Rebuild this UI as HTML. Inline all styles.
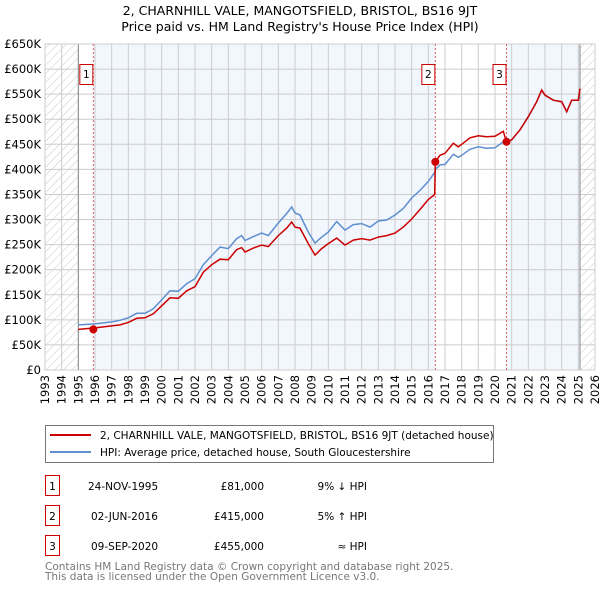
<!DOCTYPE html>
<html><head><meta charset="utf-8"><style>
body{margin:0;background:#fff;}
svg text{font-family:"DejaVu Sans","Liberation Sans",sans-serif;}
</style></head><body>
<svg width="600" height="590" xmlns="http://www.w3.org/2000/svg">
<defs>
<pattern id="hatch" width="6" height="6" patternUnits="userSpaceOnUse" patternTransform="rotate(45)">
<line x1="0" y1="0" x2="0" y2="6" stroke="#bbb" stroke-width="0.8"/>
</pattern>
</defs>
<text x="300" y="15" text-anchor="middle" font-size="12.5">2, CHARNHILL VALE, MANGOTSFIELD, BRISTOL, BS16 9JT</text>
<text x="300" y="31" text-anchor="middle" font-size="12.5">Price paid vs. HM Land Registry's House Price Index (HPI)</text>
<g id="plot"></g>
<g>
<rect x="45.5" y="425.5" width="448" height="37" fill="#fff" stroke="#777"/>
<line x1="50" y1="435" x2="91" y2="435" stroke="#cc0000" stroke-width="2"/>
<text x="100" y="439" font-size="10.5">2, CHARNHILL VALE, MANGOTSFIELD, BRISTOL, BS16 9JT (detached house)</text>
<line x1="50" y1="452" x2="91" y2="452" stroke="#5f8fd0" stroke-width="2"/>
<text x="100" y="456" font-size="10.5">HPI: Average price, detached house, South Gloucestershire</text>
</g>
<g font-size="10.5">
<rect x="45.5" y="475.5" width="14" height="20" fill="#fff" stroke="#cc0000"/><text x="52.5" y="490" text-anchor="middle">1</text>
<text x="88" y="490">24-NOV-1995</text><text x="264" y="490" text-anchor="end">£81,000</text><text x="367" y="490" text-anchor="end">9% ↓ HPI</text>
<rect x="45.5" y="505.5" width="14" height="20" fill="#fff" stroke="#cc0000"/><text x="52.5" y="520" text-anchor="middle">2</text>
<text x="91" y="520">02-JUN-2016</text><text x="264" y="520" text-anchor="end">£415,000</text><text x="367" y="520" text-anchor="end">5% ↑ HPI</text>
<rect x="45.5" y="535.5" width="14" height="20" fill="#fff" stroke="#cc0000"/><text x="52.5" y="550" text-anchor="middle">3</text>
<text x="91" y="550">09-SEP-2020</text><text x="264" y="550" text-anchor="end">£455,000</text><text x="367" y="550" text-anchor="end">≈ HPI</text>
</g>
<text x="45" y="570" font-size="10.5" fill="#777">Contains HM Land Registry data © Crown copyright and database right 2025.</text>
<text x="45" y="580" font-size="10.5" fill="#777">This data is licensed under the Open Government Licence v3.0.</text>
</svg>
<script>
const dates=[1995,1996,1997,1997.5,1998,1998.5,1999,1999.5,2000,2000.5,2001,2001.5,2002,2002.5,2003,2003.5,2004,2004.5,2004.8,2005,2005.5,2006,2006.4,2007,2007.5,2007.8,2008,2008.3,2008.8,2009.2,2009.6,2010,2010.5,2011,2011.5,2012,2012.5,2013,2013.5,2014,2014.5,2015,2015.5,2016,2016.38,2016.42,2016.7,2017,2017.5,2017.8,2018,2018.5,2019,2019.5,2020,2020.5,2020.69,2021,2021.5,2022,2022.5,2022.8,2023,2023.5,2024,2024.3,2024.6,2025,2025.1];
const hpiValues=[90,92,96,99,104,113,113,122,140,158,157,172,182,210,228,245,242,262,268,258,266,273,268,293,312,325,313,309,275,253,265,275,296,279,290,292,285,297,299,309,322,343,358,376,394,400,409,410,430,424,428,440,445,442,443,455,452,459,479,505,535,558,548,538,535,515,538,538,561];
const priceValues=[81,84,88,90,95,103,104,112,128,144,143,158,166,195,210,221,220,240,244,235,243,249,246,268,283,295,285,283,252,229,242,252,263,249,259,262,259,265,268,273,285,301,320,340,350,415,428,432,452,445,450,463,467,465,466,476,455,459,479,505,535,558,548,538,535,515,538,538,561];
const saleDates=[1995.9,2016.42,2020.69];
const saleValues=[81,415,455];
const saleLabels=["1","2","3"];
const yTicks=[0,50,100,150,200,250,300,350,400,450,500,550,600,650];
const yTickLabels=["£0","£50K","£100K","£150K","£200K","£250K","£300K","£350K","£400K","£450K","£500K","£550K","£600K","£650K"];
const xTicks=[1993,1994,1995,1996,1997,1998,1999,2000,2001,2002,2003,2004,2005,2006,2007,2008,2009,2010,2011,2012,2013,2014,2015,2016,2017,2018,2019,2020,2021,2022,2023,2024,2025,2026];

const NS="http://www.w3.org/2000/svg";
const L=45,R=595,T=44,B=370;
const xS=y=>L+(y-1993)/(2026-1993)*(R-L);
const yS=v=>B-v/650*(B-T);
const g=document.getElementById('plot');
function mk(tag,attrs,parent){const e=document.createElementNS(NS,tag);for(const k in attrs)e.setAttribute(k,attrs[k]);(parent||g).appendChild(e);return e;}
let e;
// background bands
e=mk('rect',{x:L,y:T,width:R-L,height:B-T,fill:'#fff'});


const bands=[[saleDates[0],saleDates[1]],[saleDates[2],2025.1]];
bands.forEach(b=>{e=mk('rect',{x:xS(b[0]),y:T,width:xS(b[1])-xS(b[0]),height:B-T,fill:'#f2f6fd'});

});
e=mk('rect',{x:L,y:T,width:xS(1995)-L,height:B-T,fill:'url(#hatch)'});


e=mk('rect',{x:xS(2025.1),y:T,width:R-xS(2025.1),height:B-T,fill:'url(#hatch)'});


// grid
yTicks.forEach((v,i)=>{e=mk('line',{x1:L,x2:R,y1:yS(v),y2:yS(v),stroke:'#ccc','stroke-width':1});


e=mk('text',{x:L-4,y:yS(v)+4,'text-anchor':'end','font-size':'11.5'});e.textContent=yTickLabels[i];

});
xTicks.forEach(t=>{e=mk('line',{x1:xS(t),x2:xS(t),y1:T,y2:B,stroke:'#ccc','stroke-width':1});


e=mk('text',{x:0,y:0,'text-anchor':'end','font-size':'11.5',transform:`translate(${xS(t)+4},${B+5}) rotate(-90)`});e.textContent=t;

});
e=mk('line',{x1:xS(1995),x2:xS(1995),y1:T,y2:B,stroke:'#888','stroke-width':1});


e=mk('line',{x1:xS(2025.1),x2:xS(2025.1),y1:T,y2:B,stroke:'#888','stroke-width':1});


e=mk('rect',{x:L,y:T,width:R-L,height:B-T,fill:'none',stroke:'#ccc'});


// sale markers lines
saleDates.forEach((d,i)=>{e=mk('line',{x1:xS(d),x2:xS(d),y1:T,y2:B,stroke:'#e06060','stroke-width':1,'stroke-dasharray':'2,2'});


e=mk('rect',{x:xS(d)-13.5,y:64.5,width:13,height:20,fill:'#fff',stroke:'#cc0000'});


e=mk('text',{x:xS(d)-7,y:78,'text-anchor':'middle','font-size':'10.5'});e.textContent=saleLabels[i];

});
// lines
const pts=arr=>arr.map((v,i)=>xS(dates[i]).toFixed(1)+','+yS(v).toFixed(1)).join(' ');
e=mk('polyline',{points:pts(hpiValues),fill:'none',stroke:'#5f8fd0','stroke-width':1.5});


e=mk('polyline',{points:pts(priceValues),fill:'none',stroke:'#cc0000','stroke-width':1.5});


saleDates.forEach((d,i)=>{e=mk('circle',{cx:xS(d),cy:yS(saleValues[i]),r:4,fill:'#cc0000'});

});
</script>
</body></html>
